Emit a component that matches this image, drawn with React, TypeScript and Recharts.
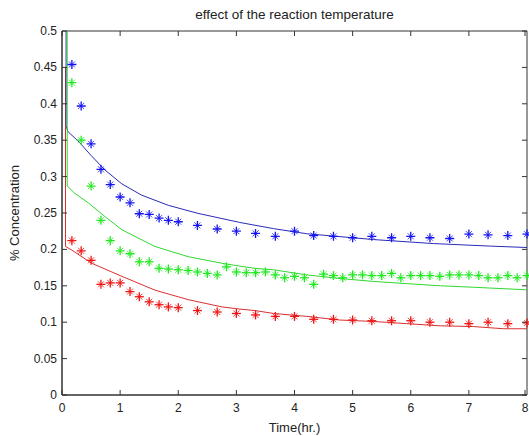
import React from 'react';
import { ComposedChart, Line, Scatter, XAxis, YAxis, ReferenceArea } from 'recharts';

document.body.style.margin = '0';

// measured samples (hr., % concentration)
const blueTime = [0.17, 0.33, 0.5, 0.67, 0.83, 1, 1.17, 1.33, 1.5, 1.67, 1.83, 2, 2.33, 2.67, 3, 3.33, 3.67, 4, 4.33, 4.67, 5, 5.33, 5.67, 6, 6.33, 6.67, 7, 7.33, 7.67, 8];
const blueConc = [0.454, 0.397, 0.345, 0.31, 0.289, 0.272, 0.264, 0.249, 0.248, 0.243, 0.24, 0.238, 0.233, 0.228, 0.225, 0.222, 0.218, 0.225, 0.219, 0.218, 0.216, 0.218, 0.216, 0.218, 0.216, 0.215, 0.221, 0.22, 0.219, 0.221];

const greenTime = [0.17, 0.33, 0.5, 0.67, 0.83, 1, 1.17, 1.33, 1.5, 1.67, 1.83, 2, 2.17, 2.33, 2.5, 2.67, 2.83, 3, 3.17, 3.33, 3.5, 3.67, 3.83, 4, 4.17, 4.33, 4.5, 4.67, 4.83, 5, 5.17, 5.33, 5.5, 5.67, 5.83, 6, 6.17, 6.33, 6.5, 6.67, 6.83, 7, 7.17, 7.33, 7.5, 7.67, 7.83, 8];
const greenConc = [0.429, 0.35, 0.287, 0.24, 0.212, 0.198, 0.194, 0.183, 0.183, 0.174, 0.173, 0.172, 0.171, 0.169, 0.167, 0.165, 0.176, 0.169, 0.168, 0.168, 0.169, 0.165, 0.161, 0.163, 0.161, 0.152, 0.166, 0.164, 0.161, 0.165, 0.165, 0.164, 0.164, 0.167, 0.161, 0.164, 0.164, 0.164, 0.163, 0.165, 0.165, 0.165, 0.164, 0.161, 0.161, 0.164, 0.161, 0.164];

const redTime = [0.17, 0.33, 0.5, 0.67, 0.83, 1, 1.17, 1.33, 1.5, 1.67, 1.83, 2, 2.33, 2.67, 3, 3.33, 3.67, 4, 4.33, 4.67, 5, 5.33, 5.67, 6, 6.33, 6.67, 7, 7.33, 7.67, 8];
const redConc = [0.212, 0.198, 0.185, 0.152, 0.154, 0.154, 0.142, 0.135, 0.128, 0.124, 0.121, 0.12, 0.116, 0.114, 0.112, 0.11, 0.108, 0.108, 0.104, 0.104, 0.103, 0.102, 0.102, 0.102, 0.1, 0.1, 0.098, 0.1, 0.098, 0.099];

// fitted model curves
const blueFitTime = [0.07, 0.07, 0.1, 0.3, 0.5, 0.74, 1.03, 1.37, 1.83, 2.34, 3.06, 3.64, 4.21, 5.36, 6.39, 7.37, 8];
const blueFitConc = [0.5, 0.37, 0.362, 0.347, 0.329, 0.309, 0.29, 0.2745, 0.2605, 0.2495, 0.237, 0.2285, 0.2215, 0.2135, 0.208, 0.2045, 0.2026];

const greenFitTime = [0.09, 0.09, 0.22, 0.45, 0.74, 1.03, 1.6, 2.17, 2.75, 3.06, 3.32, 3.64, 4.21, 4.78, 5.36, 5.93, 6.51, 7.08, 8];
const greenFitConc = [0.5, 0.287, 0.277, 0.264, 0.245, 0.227, 0.204, 0.19, 0.181, 0.177, 0.174, 0.172, 0.165, 0.16, 0.156, 0.153, 0.15, 0.148, 0.1445];

const redFitTime = [0.06, 0.06, 0.17, 0.51, 1.03, 1.6, 2.17, 2.75, 3.06, 3.32, 3.64, 4.21, 4.78, 5.36, 5.93, 6.51, 7.08, 7.6, 8];
const redFitConc = [0.45, 0.204, 0.199, 0.181, 0.163, 0.144, 0.131, 0.121, 0.118, 0.116, 0.112, 0.108, 0.103, 0.101, 0.098, 0.095, 0.094, 0.091, 0.091];

const xTicks = [0, 1, 2, 3, 4, 5, 6, 7, 8];
const yTicks = [0, 0.05, 0.1, 0.15, 0.2, 0.25, 0.3, 0.35, 0.4, 0.45, 0.5];

const toPoints = (t: number[], c: number[]) => t.map((v, i) => ({ t: v, c: c[i] }));

const FONT = '"Liberation Sans", Arial, sans-serif';
const TEXT = '#222';
const AXIS = '#333';
// plot frame, used only for the inward MATLAB-style tick marks
const PL = 62;
const PR = 527;
const PT = 31;
const PB = 395;

const star = (color: string) => (props: any) => {
  const { cx, cy } = props;
  if (cx == null || cy == null) return <g />;
  return (
    <g stroke={color} strokeWidth={1.3}>
      <line x1={cx - 4.5} x2={cx + 4.5} y1={cy} y2={cy} />
      <line x1={cx} x2={cx} y1={cy - 4.5} y2={cy + 4.5} />
      <line x1={cx - 3} x2={cx + 3} y1={cy - 3} y2={cy + 3} strokeWidth={0.8} />
      <line x1={cx - 3} x2={cx + 3} y1={cy + 3} y2={cy - 3} strokeWidth={0.8} />
    </g>
  );
};

const YTick = (props: any) => {
  const { y, payload } = props;
  return (
    <g>
      <line x1={PL} x2={PL + 5} y1={y} y2={y} stroke={AXIS} />
      <line x1={PR} x2={PR - 5} y1={y} y2={y} stroke={AXIS} />
      <text x={57} y={y} dy={4} textAnchor="end" fill={TEXT} fontSize={12} fontFamily={FONT}>
        {String(+payload.value.toFixed(2))}
      </text>
    </g>
  );
};

const XTick = (props: any) => {
  const { x, payload } = props;
  return (
    <g>
      <line x1={x} x2={x} y1={PB} y2={PB - 5} stroke={AXIS} />
      <line x1={x} x2={x} y1={PT} y2={PT + 5} stroke={AXIS} />
      <text x={x} y={PB + 17} textAnchor="middle" fill={TEXT} fontSize={12} fontFamily={FONT}>
        {payload.value}
      </text>
    </g>
  );
};

const YLabel = (props: any) => {
  const { viewBox } = props;
  const cy = viewBox.y + viewBox.height / 2;
  return (
    <text x={19} y={cy} transform={`rotate(-90, 19, ${cy})`} textAnchor="middle" fill={TEXT} fontSize={13} fontFamily={FONT}>
      % Concentration
    </text>
  );
};

export default function App() {
  return (
    <div style={{ position: 'relative', width: 529, height: 436, background: '#fff' }}>
      <div
        style={{
          position: 'absolute', left: PL, width: PR - PL, top: 7, textAlign: 'center',
          fontFamily: FONT, fontSize: 13.5, color: TEXT,
        }}
      >
        effect of the reaction temperature
      </div>
      <ComposedChart width={529} height={436} margin={{ top: 31, right: 2, bottom: 0, left: 0 }}>
        <XAxis
          type="number" dataKey="t" domain={[0, 8]} ticks={xTicks} height={41}
          stroke={AXIS} tickLine={false} tick={<XTick />}
          label={{ value: 'Time(hr.)', position: 'insideBottom', offset: 4, fill: TEXT, fontSize: 13, fontFamily: FONT }}
        />
        <YAxis
          type="number" domain={[0, 0.5]} ticks={yTicks} width={62} allowDataOverflow
          stroke={AXIS} tickLine={false} tick={<YTick />} label={<YLabel />}
        />
        <ReferenceArea x1={0} x2={8} y1={0} y2={0.5} fill="none" stroke={AXIS} strokeOpacity={1} ifOverflow="visible" />
        <Line data={toPoints(redFitTime, redFitConc)} dataKey="c" stroke="#d83030" strokeWidth={1} dot={false} isAnimationActive={false} />
        <Line data={toPoints(blueFitTime, blueFitConc)} dataKey="c" stroke="#2a2ab8" strokeWidth={1} dot={false} isAnimationActive={false} />
        <Line data={toPoints(greenFitTime, greenFitConc)} dataKey="c" stroke="#30d830" strokeWidth={1} dot={false} isAnimationActive={false} />
        <Scatter data={toPoints(blueTime, blueConc)} dataKey="c" shape={star('#1414f0')} isAnimationActive={false} />
        <Scatter data={toPoints(greenTime, greenConc)} dataKey="c" shape={star('#22e822')} isAnimationActive={false} />
        <Scatter data={toPoints(redTime, redConc)} dataKey="c" shape={star('#ee1414')} isAnimationActive={false} />
      </ComposedChart>
    </div>
  );
}
